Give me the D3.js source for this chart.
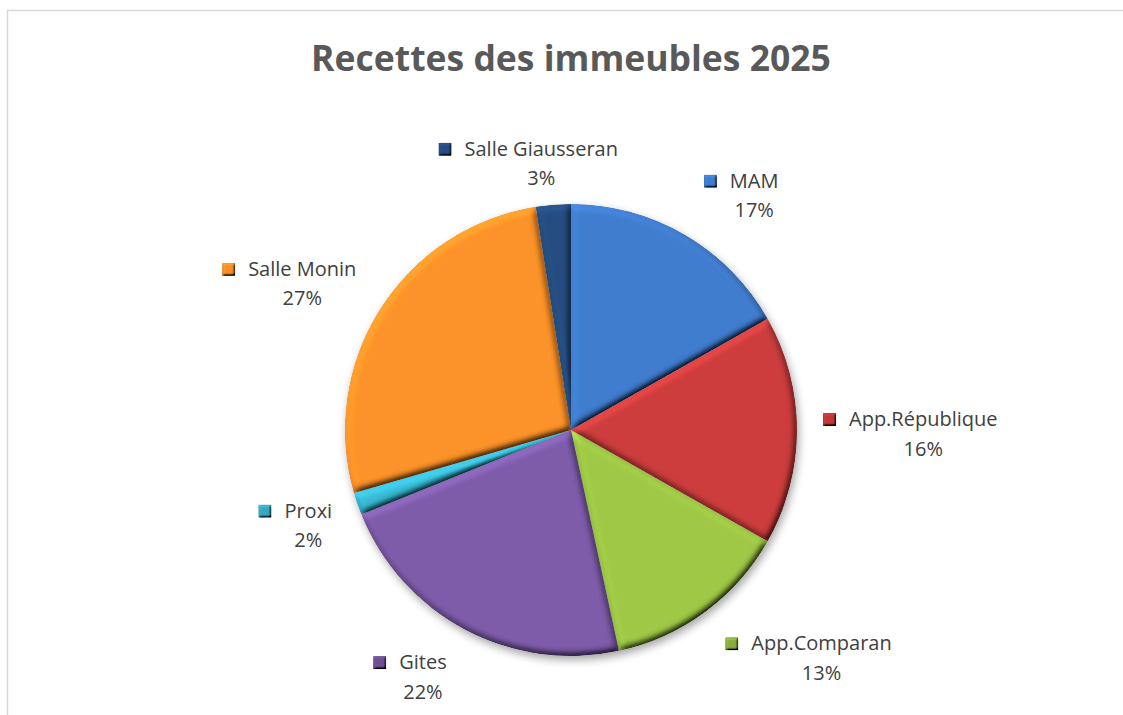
<!DOCTYPE html>
<html>
<head>
<meta charset="utf-8">
<script src="https://cdn.jsdelivr.net/npm/d3@7"></script>
<style>
  body { margin: 0; background: #fff; }
  text { font-family: "Open Sans", "DejaVu Sans", sans-serif; }
</style>
</head>
<body>
<div id="chart"></div>
<script>
// data (share of 2025 receipts per building)
var categories = ["MAM", "App.République", "App.Comparan", "Gites", "Proxi", "Salle Monin", "Salle Giausseran"];
var values = [16.8, 16.4, 13.4, 22.3, 1.6, 27.0, 2.5];
var colors = ["#3d78c6", "#c43a3a", "#98c143", "#7a58a4", "#36b2cc", "#f28d27", "#244a7c"];
var title = "Recettes des immeubles 2025";

var width = 1123, height = 715;
var cx = 571, cy = 430, radius = 226;

var svg = d3.select("#chart")
    .append("svg")
    .attr("width", width)
    .attr("height", height);

// chart frame (only top and left edges are inside the picture)
svg.append("rect")
    .attr("x", 7.5).attr("y", 10.5)
    .attr("width", 1300).attr("height", 900)
    .attr("fill", "none")
    .attr("stroke", "#d9d9d9")
    .attr("stroke-width", 1.5);

svg.append("text")
    .attr("x", cx).attr("y", 71)
    .attr("text-anchor", "middle")
    .attr("font-size", 35.5)
    .attr("font-weight", "bold")
    .attr("fill", "#595959")
    .text(title);

var defs = svg.append("defs");

// bevel filter: diffuse light on the blurred alpha, multiplied on the fill
function bevel(id, blur, scale) {
    var f = defs.append("filter").attr("id", id)
        .attr("x", "-10%").attr("y", "-10%").attr("width", "120%").attr("height", "120%");
    f.append("feGaussianBlur").attr("in", "SourceAlpha").attr("stdDeviation", blur).attr("result", "blur");
    f.append("feDiffuseLighting").attr("in", "blur").attr("surfaceScale", scale)
        .attr("diffuseConstant", 1).attr("lighting-color", "#fff").attr("result", "light")
        .append("feDistantLight").attr("azimuth", 235).attr("elevation", 50);
    f.append("feComposite").attr("in", "SourceGraphic").attr("in2", "light")
        .attr("operator", "arithmetic").attr("k1", 1.3).attr("k2", 0).attr("k3", 0).attr("k4", 0)
        .attr("result", "lit");
    f.append("feComposite").attr("in", "lit").attr("in2", "SourceAlpha").attr("operator", "in");
}
bevel("bevel", 3.5, 5);
bevel("bevelSmall", 1.2, 3);

var shadow = defs.append("filter").attr("id", "shadow")
    .attr("x", "-20%").attr("y", "-20%").attr("width", "140%").attr("height", "140%");
shadow.append("feGaussianBlur").attr("stdDeviation", 4);

// vertical gradient per slice colour
colors.forEach(function (c, i) {
    var g = defs.append("linearGradient").attr("id", "grad" + i)
        .attr("gradientUnits", "userSpaceOnUse")
        .attr("x1", 0).attr("y1", cy - radius).attr("x2", 0).attr("y2", cy + radius);
    g.append("stop").attr("offset", "0%").attr("stop-color", d3.color(c).brighter(0.12));
    g.append("stop").attr("offset", "100%").attr("stop-color", d3.color(c).darker(0.3));
});

var pie = d3.pie().sort(null).value(function (d) { return d; });
var arcs = pie(values);
var arc = d3.arc().innerRadius(0).outerRadius(radius);

// soft shadow under the pie
svg.append("circle")
    .attr("cx", cx + 2).attr("cy", cy + 4).attr("r", radius)
    .attr("fill", "#000").attr("opacity", 0.35)
    .attr("filter", "url(#shadow)");

svg.append("g")
    .selectAll("path.slice")
    .data(arcs)
    .enter()
    .append("path")
    .attr("class", "slice")
    .attr("transform", "translate(" + cx + "," + cy + ")")
    .attr("d", arc)
    .attr("fill", function (d, i) { return "url(#grad" + i + ")"; })
    .attr("filter", "url(#bevel)");

// data labels: key square + name, percentage underneath, placed outside the arc
var total = d3.sum(values);
var fontSize = 20, lineGap = 29.5, keySize = 13, keyGap = 13;

arcs.forEach(function (d, i) {
    var g = svg.append("g");
    var name = g.append("text")
        .attr("font-size", fontSize).attr("fill", "#404040")
        .text(categories[i]);
    var pct = g.append("text")
        .attr("font-size", fontSize).attr("fill", "#404040")
        .attr("text-anchor", "middle")
        .text(Math.round(values[i] / total * 100) + "%");
    var nw = name.node().getComputedTextLength();
    var pw = pct.node().getComputedTextLength();
    var lineW = keySize + keyGap + nw;
    var hw = Math.max(lineW, pw) / 2 + 12, hh = 31;

    var a = (d.startAngle + d.endAngle) / 2;
    var ar = radius + 14;
    var sx = Math.max(-1, Math.min(1, 3 * Math.sin(a)));
    var sy = Math.max(-1, Math.min(1, -1.3 * Math.cos(a)));
    var bx = cx + ar * Math.sin(a) + sx * hw;   // box centre
    var by = cy - ar * Math.cos(a) + sy * hh;

    var left = bx - lineW / 2;
    var base1 = by - 4;
    g.append("rect")
        .attr("x", left).attr("y", base1 - keySize)
        .attr("width", keySize).attr("height", keySize)
        .attr("fill", "url(#grad" + i + ")")
        .attr("filter", "url(#bevelSmall)");
    name.attr("x", left + keySize + keyGap).attr("y", base1);
    pct.attr("x", left + keySize + keyGap + nw / 2).attr("y", base1 + lineGap);
});
</script>
</body>
</html>
